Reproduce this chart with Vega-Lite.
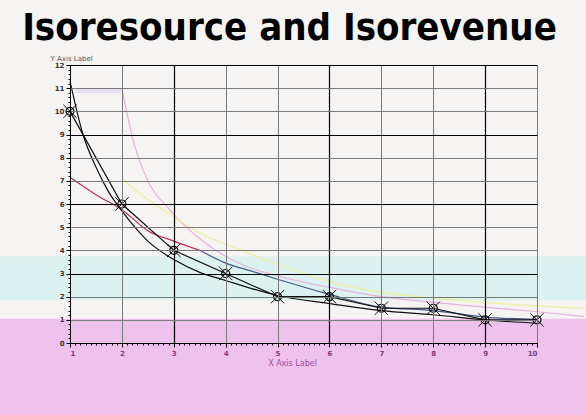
{
 "$schema": "https://vega.github.io/schema/vega-lite/v6.json",
 "width": 467, "height": 278,
 "autosize": {"type": "none"},
 "padding": {"left": 70, "top": 65, "right": 49, "bottom": 72},
 "background": "#f6f3f3",
 "config": {"view": {"stroke": null}, "axis": {"labelFont": "DejaVu Sans", "titleFont": "DejaVu Sans"}},
 "title": {"text": "Isoresource and Isorevenue", "font": "DejaVu Sans Condensed", "fontSize": 38, "fontWeight": "bold", "color": "#000000", "anchor": "middle", "dx": -14, "offset": 14, "dy": 8},
 "datasets": {
  "bands": [
   {"band": "magenta", "x0": -0.5, "x1": 11.5, "y0": -3.5, "y1": 1.05},
   {"band": "cyan", "x0": -0.5, "x1": 11.5, "y0": 1.85, "y1": 3.75}
  ],
  "faint": [
   {"s": "pink", "x": 2, "y": 11}, {"s": "pink", "x": 2.2, "y": 8.9}, {"s": "pink", "x": 2.5, "y": 7.0}, {"s": "pink", "x": 2.9, "y": 5.8}, {"s": "pink", "x": 3.5, "y": 4.5}, {"s": "pink", "x": 4.3, "y": 3.4}, {"s": "pink", "x": 5, "y": 2.9}, {"s": "pink", "x": 6, "y": 2.4}, {"s": "pink", "x": 7, "y": 2.0}, {"s": "pink", "x": 8, "y": 1.75}, {"s": "pink", "x": 9, "y": 1.55}, {"s": "pink", "x": 10, "y": 1.35}, {"s": "pink", "x": 10.9, "y": 1.15},
   {"s": "yellow", "x": 2, "y": 7.1}, {"s": "yellow", "x": 2.2, "y": 6.7}, {"s": "yellow", "x": 2.9, "y": 5.6}, {"s": "yellow", "x": 3.5, "y": 4.75}, {"s": "yellow", "x": 4.3, "y": 4.0}, {"s": "yellow", "x": 5, "y": 3.4}, {"s": "yellow", "x": 6, "y": 2.65}, {"s": "yellow", "x": 6.8, "y": 2.25}, {"s": "yellow", "x": 8, "y": 1.95}, {"s": "yellow", "x": 9, "y": 1.75}, {"s": "yellow", "x": 10, "y": 1.6}, {"s": "yellow", "x": 10.9, "y": 1.5}
  ],
  "lav": [{"x": 1.1, "y": 10.9}, {"x": 2, "y": 10.9}],
  "curves": [
   {"s": "red", "x": 1, "y": 7.15}, {"s": "red", "x": 1.5, "y": 6.4}, {"s": "red", "x": 2, "y": 5.75}, {"s": "red", "x": 2.5, "y": 4.85}, {"s": "red", "x": 3, "y": 4.4}, {"s": "red", "x": 3.5, "y": 4.0},
   {"s": "blue", "x": 3.5, "y": 4.0}, {"s": "blue", "x": 4, "y": 3.45}, {"s": "blue", "x": 4.5, "y": 3.1}, {"s": "blue", "x": 5, "y": 2.75}, {"s": "blue", "x": 6, "y": 2.1}, {"s": "blue", "x": 7, "y": 1.55}, {"s": "blue", "x": 8, "y": 1.4}, {"s": "blue", "x": 9, "y": 1.12}, {"s": "blue", "x": 10, "y": 1.02},
   {"s": "smooth", "x": 1, "y": 11.3}, {"s": "smooth", "x": 1.25, "y": 9.0}, {"s": "smooth", "x": 1.5, "y": 7.6}, {"s": "smooth", "x": 1.75, "y": 6.5}, {"s": "smooth", "x": 2, "y": 5.7}, {"s": "smooth", "x": 2.5, "y": 4.4}, {"s": "smooth", "x": 3, "y": 3.6}, {"s": "smooth", "x": 3.5, "y": 3.05}, {"s": "smooth", "x": 4, "y": 2.7}, {"s": "smooth", "x": 4.5, "y": 2.35}, {"s": "smooth", "x": 5, "y": 2.05}, {"s": "smooth", "x": 6, "y": 1.7}, {"s": "smooth", "x": 7, "y": 1.4}, {"s": "smooth", "x": 8, "y": 1.22}, {"s": "smooth", "x": 9, "y": 1.0}, {"s": "smooth", "x": 10, "y": 0.85}
  ],
  "pts": [
   {"x": 1, "y": 10}, {"x": 2, "y": 6}, {"x": 3, "y": 4}, {"x": 4, "y": 3}, {"x": 5, "y": 2}, {"x": 6, "y": 2}, {"x": 7, "y": 1.5}, {"x": 8, "y": 1.5}, {"x": 9, "y": 1}, {"x": 10, "y": 1}
  ]
 },
 "layer": [
  {
   "data": {"name": "bands"},
   "mark": {"type": "rect"},
   "encoding": {
    "x": {"field": "x0", "type": "quantitative", "scale": {"domain": [1, 10], "nice": false, "zero": false},
     "axis": {"orient": "bottom", "values": [1, 2, 3, 4, 5, 6, 7, 8, 9, 10], "format": "d", "labelFontSize": 7, "labelFontWeight": "bold", "labelColor": "#7a3c7a", "labelPadding": 2, "tickColor": "#000000", "tickSize": 4, "domainColor": "#000000", "grid": true, "gridColor": "#7a7a7a", "title": "X Axis Label", "titleFontSize": 8, "titleFontWeight": "normal", "titleColor": "#a04aa0", "titlePadding": 3, "titleX": 222, "zindex": 1}},
    "x2": {"field": "x1"},
    "y": {"field": "y0", "type": "quantitative", "scale": {"domain": [0, 12], "nice": false, "zero": false},
     "axis": {"orient": "left", "values": [0, 1, 2, 3, 4, 5, 6, 7, 8, 9, 10, 11, 12], "format": "d", "labelFontSize": 7, "labelFontWeight": "bold", "labelColor": "#333333", "labelPadding": 2, "tickColor": "#000000", "tickSize": 4, "domainColor": "#000000", "grid": true, "gridColor": "#7a7a7a", "title": "Y Axis Label", "titleAngle": 0, "titleX": -20, "titleY": -4, "titleAlign": "left", "titleBaseline": "bottom", "titleFontSize": 7, "titleFontWeight": "normal", "titleColor": "#555555", "zindex": 1}},
    "y2": {"field": "y1"},
    "color": {"field": "band", "type": "nominal", "legend": null, "scale": {"domain": ["magenta", "cyan"], "range": ["#efc2ee", "#dcf2f0"]}}
   }
  },
  {
   "data": {"name": "faint"},
   "mark": {"type": "line", "interpolate": "monotone", "strokeWidth": 1.2},
   "encoding": {
    "x": {"field": "x", "type": "quantitative", "axis": {"orient": "bottom", "tickCount": 90, "labels": false, "grid": false, "domain": false, "ticks": true, "tickSize": 2, "tickColor": "#000000", "title": null, "zindex": 1}},
    "y": {"field": "y", "type": "quantitative", "axis": {"orient": "left", "tickCount": 60, "labels": false, "grid": false, "domain": false, "ticks": true, "tickSize": 2, "tickColor": "#000000", "title": null, "zindex": 1}},
    "color": {"field": "s", "type": "nominal", "legend": null, "scale": {"domain": ["pink", "yellow"], "range": ["#e8b2dc", "#ecef9c"]}}
   }
  },
  {
   "data": {"name": "lav"},
   "mark": {"type": "line", "strokeWidth": 5, "color": "#e6def4"},
   "encoding": {
    "x": {"field": "x", "type": "quantitative", "axis": null},
    "y": {"field": "y", "type": "quantitative", "axis": null}
   }
  },
  {
   "data": {"name": "curves"},
   "mark": {"type": "line", "interpolate": "monotone", "strokeWidth": 1.2},
   "encoding": {
    "x": {"field": "x", "type": "quantitative", "axis": {"orient": "top", "values": [3, 6, 9], "labels": false, "ticks": false, "domain": false, "grid": true, "gridColor": "#000000", "gridWidth": 1.2, "title": null, "zindex": 1}},
    "y": {"field": "y", "type": "quantitative", "axis": {"orient": "right", "values": [3, 6, 9, 12], "labels": false, "ticks": false, "domain": false, "grid": true, "gridColor": "#000000", "gridWidth": 1.2, "title": null, "zindex": 1}},
    "stroke": {"field": "s", "type": "nominal", "legend": null, "scale": {"domain": ["red", "blue", "smooth"], "range": ["#b8305e", "#3f5a86", "#111111"]}}
   }
  },
  {
   "data": {"name": "pts"},
   "mark": {"type": "line", "strokeWidth": 1.2, "color": "#111111"},
   "encoding": {
    "x": {"field": "x", "type": "quantitative", "axis": null},
    "y": {"field": "y", "type": "quantitative", "axis": null}
   }
  },
  {
   "data": {"name": "pts"},
   "mark": {"type": "point", "shape": "circle", "size": 64, "filled": false, "stroke": "#111111", "strokeWidth": 1.2, "opacity": 1},
   "encoding": {
    "x": {"field": "x", "type": "quantitative", "axis": null},
    "y": {"field": "y", "type": "quantitative", "axis": null}
   }
  },
  {
   "data": {"name": "pts"},
   "mark": {"type": "point", "shape": "M-1,-1L1,1M-1,1L1,-1", "size": 180, "filled": false, "stroke": "#111111", "strokeWidth": 1, "opacity": 1},
   "encoding": {
    "x": {"field": "x", "type": "quantitative", "axis": null},
    "y": {"field": "y", "type": "quantitative", "axis": null}
   }
  }
 ],
 "resolve": {"axis": {"x": "independent", "y": "independent"}, "scale": {"color": "independent"}}
}
